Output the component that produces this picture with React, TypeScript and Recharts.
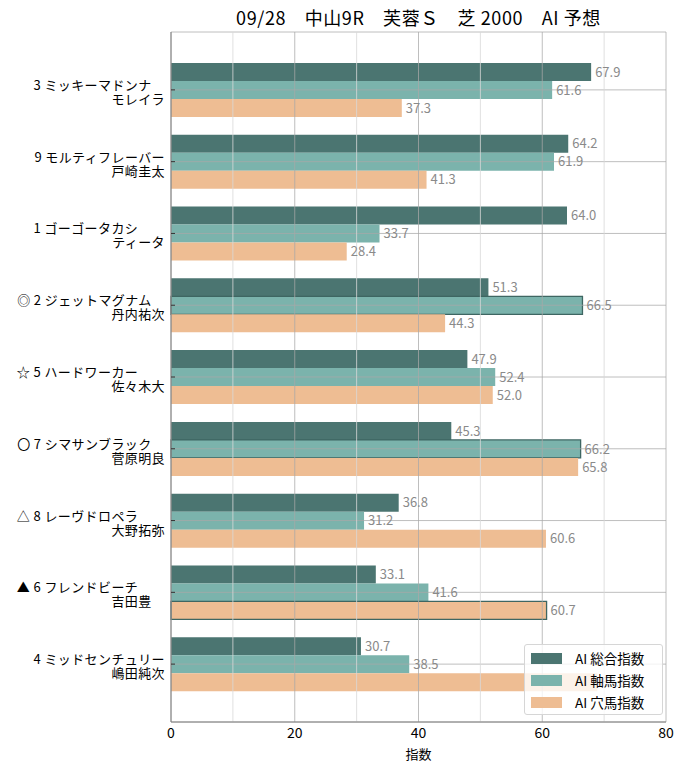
import {
  BarChart,
  Bar,
  XAxis,
  YAxis,
  CartesianGrid,
  Cell,
  LabelList,
  ReferenceLine,
} from "recharts";

const TITLE = "09/28　中山9R　芙蓉Ｓ　芝 2000　AI 予想";

const marks = ["", "", "", "◎", "☆", "〇", "△", "▲", ""];
const numbers = [3, 9, 1, 2, 5, 7, 8, 6, 4];
const horses = [
  "ミッキーマドンナ",
  "モルティフレーバー",
  "ゴーゴータカシ",
  "ジェットマグナム",
  "ハードワーカー",
  "シマサンブラック",
  "レーヴドロペラ",
  "フレンドビーチ",
  "ミッドセンチュリー",
];
const jockeys = [
  "モレイラ",
  "戸崎圭太",
  "ティータ",
  "丹内祐次",
  "佐々木大",
  "菅原明良",
  "大野拓弥",
  "吉田豊",
  "嶋田純次",
];

const sogo = [67.9, 64.2, 64.0, 51.3, 47.9, 45.3, 36.8, 33.1, 30.7];
const jiku = [61.6, 61.9, 33.7, 66.5, 52.4, 66.2, 31.2, 41.6, 38.5];
const ana = [37.3, 41.3, 28.4, 44.3, 52.0, 65.8, 60.6, 60.7, 68.9];

// bar with the dark outline
const outlined = ["", "", "", "jiku", "", "jiku", "", "ana", ""];

const xTicks = [0, 20, 40, 60, 80];
const minorTicks = [10, 30, 50, 70];
const allTicks = [0, 10, 20, 30, 40, 50, 60, 70, 80];

const SERIES = [
  { key: "sogo", name: "AI 総合指数", color: "#4b7571" },
  { key: "jiku", name: "AI 軸馬指数", color: "#7bb3ac" },
  { key: "ana", name: "AI 穴馬指数", color: "#eebd93" },
];

// names are padded with full-width spaces like the original labels
const data = horses.map((h, i) => ({
  label: `${marks[i] ? marks[i] + " " : ""}${numbers[i]} ${h.padEnd(9, "　")}`,
  jockey: jockeys[i].padEnd(4, "　"),
  sogo: sogo[i],
  jiku: jiku[i],
  ana: ana[i],
  outline: outlined[i],
}));

const FONT = '"Noto Sans CJK JP", "Noto Sans", sans-serif';

function HorseTick(props: any) {
  const { y, payload } = props;
  const row = data[payload.index];
  const x = 165;
  return (
    <g fontFamily={FONT} fontSize={13} fill="#000" style={{ whiteSpace: "pre", letterSpacing: 0.4 }}>
      <text x={x} y={y} textAnchor="end">
        {row.label}
      </text>
      <text x={x} y={y + 14} textAnchor="end">
        {row.jockey}
      </text>
    </g>
  );
}

const Empty = () => <g />;

function LegendBox() {
  return (
    <div
      style={{
        position: "absolute",
        left: 524,
        top: 644,
        width: 139,
        height: 71,
        boxSizing: "border-box",
        background: "rgba(255,255,255,0.8)",
        border: "1px solid #d6d6d6",
        borderRadius: 3,
        padding: "2px 0 0 6px",
        fontFamily: FONT,
        fontSize: 13.5,
        color: "#000",
      }}
    >
      {SERIES.map((s) => (
        <div key={s.key} style={{ display: "flex", alignItems: "center", height: 22 }}>
          <span style={{ display: "inline-block", width: 31, height: 11, background: s.color, marginRight: 13 }} />
          <span>{s.name}</span>
        </div>
      ))}
    </div>
  );
}

export default function App() {
  return (
    <div style={{ position: "absolute", left: 0, top: 0, width: 685, height: 770, background: "#fff" }}>
      <div
        style={{
          position: "absolute",
          left: 171,
          width: 495,
          top: 4,
          textAlign: "center",
          fontFamily: FONT,
          fontSize: 18,
          letterSpacing: 0.6,
          whiteSpace: "pre",
          color: "#000",
        }}
      >
        {TITLE}
      </div>
      <BarChart
        width={685}
        height={770}
        data={data}
        layout="vertical"
        margin={{ top: 32, right: 19, bottom: 0, left: 0 }}
        barGap={0}
        barSize={18}
      >
        {SERIES.map((s) => (
          <Bar key={s.key} dataKey={s.key} name={s.name} fill={s.color} isAnimationActive={false}>
            {data.map((d, i) => (
              <Cell
                key={i}
                fill={s.color}
                stroke={d.outline === s.key ? "#3e6662" : "none"}
                strokeWidth={d.outline === s.key ? 1.3 : 0}
              />
            ))}
            <LabelList
              dataKey={s.key}
              position="right"
              offset={4}
              fill="#8a8a8a"
              fontSize={13}
              fontFamily={FONT}
              formatter={(v: any) => Number(v).toFixed(1)}
            />
          </Bar>
        ))}
        <CartesianGrid stroke="#a8a8a8" strokeOpacity={0.75} zIndex={350} />
        {minorTicks.map((t) => (
          <ReferenceLine key={t} x={t} stroke="#d8d8d8" strokeOpacity={0.8} zIndex={350} />
        ))}
        <XAxis
          type="number"
          domain={[0, 80]}
          ticks={xTicks}
          height={48}
          tickMargin={0}
          tick={{ fontSize: 14, fill: "#000", fontFamily: FONT }}
          tickLine={false}
          axisLine={{ stroke: "#808080" }}
          label={{ value: "指数", position: "insideBottom", offset: 11, fontSize: 13, fill: "#000", fontFamily: FONT }}
        />
        <XAxis
          xAxisId="bottomTicks"
          type="number"
          domain={[0, 80]}
          ticks={allTicks}
          mirror
          tickSize={4}
          tick={<Empty />}
          tickLine={{ stroke: "#333" }}
          axisLine={false}
        />
        <XAxis
          xAxisId="top"
          orientation="top"
          type="number"
          domain={[0, 80]}
          ticks={allTicks}
          mirror
          height={0}
          tickSize={4}
          tick={<Empty />}
          tickLine={{ stroke: "#333" }}
          axisLine={{ stroke: "#808080" }}
        />
        <YAxis
          type="category"
          dataKey="label"
          width={171}
          padding={{ top: 22, bottom: 22 }}
          tick={<HorseTick />}
          tickLine={false}
          axisLine={{ stroke: "#808080" }}
          interval={0}
        />
        <YAxis
          yAxisId="leftTicks"
          type="category"
          dataKey="label"
          mirror
          padding={{ top: 22, bottom: 22 }}
          tickSize={4}
          tick={<Empty />}
          tickLine={{ stroke: "#333" }}
          axisLine={false}
          interval={0}
        />
        <YAxis
          yAxisId="right"
          orientation="right"
          type="category"
          dataKey="label"
          mirror
          width={0}
          padding={{ top: 22, bottom: 22 }}
          tickSize={4}
          tick={<Empty />}
          tickLine={{ stroke: "#333" }}
          axisLine={{ stroke: "#808080" }}
          interval={0}
        />
      </BarChart>
      <LegendBox />
    </div>
  );
}
